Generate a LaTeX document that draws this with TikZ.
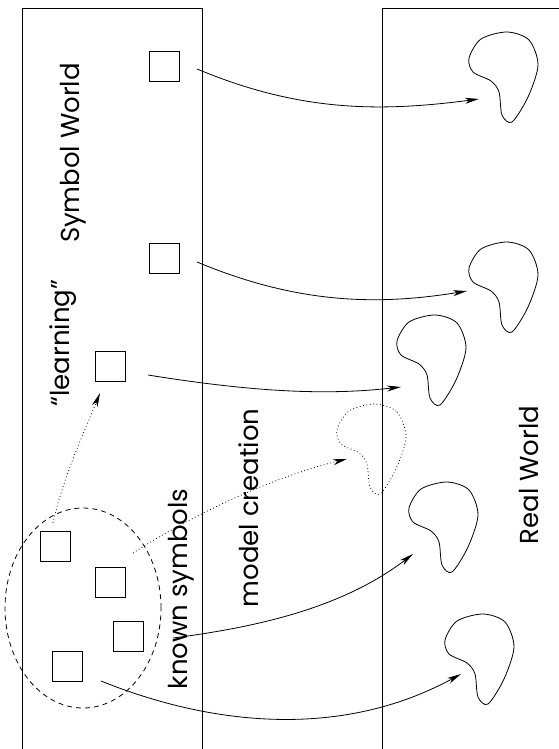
\documentclass[tikz,border=0pt]{standalone}
\usepackage{fontspec}
\setmainfont{Poppins}
\usepackage{tikz}
\usetikzlibrary{arrows.meta,shapes.geometric}
\newcommand\blobpath{plot[smooth cycle] coordinates {(38,-1) (60,7) (69,32) (59,64) (43,89) (33,82) (30,59) (22,48) (4,39) (0,25) (12,6)}}
\begin{document}
\begin{tikzpicture}[x=1pt,y=-1pt,line width=0.8pt,
  sym/.style={draw,minimum size=30pt,inner sep=0pt},
  lbl/.style={rotate=90,font=\fontsize{26}{30}\selectfont},
  conn/.style={-{Stealth[length=14pt,width=6pt,inset=4pt]}},
  dots/.style={dash pattern=on 0.8pt off 2.6pt}]
  \useasboundingbox (0,0) rectangle (559,749);
  \draw (22,760)--(22,8)--(202,8)--(202,760) (382,760)--(382,8)--(570,8);
  \node[sym](s1) at (164,66){};
  \node[sym](s2) at (164,258){};
  \node[sym](s3) at (110,366){};
  \node[sym](k1) at (55,546){};
  \node[sym](k2) at (110,582){};
  \node[sym](k3) at (128,636){};
  \node[sym](k4) at (67,666){};
  \node[ellipse,draw,dash pattern=on 5pt off 4pt,minimum width=156pt,minimum height=200pt,inner sep=0pt](known) at (83,608){};
  \node[lbl](symw) at (73,153){Symbol World};
  \node[lbl](learn) at (63,343){“learning”};
  \node[lbl](knsym) at (181,589){known symbols};
  \node[lbl](model) at (249,508){model creation};
  \node[lbl](realw) at (529,475){Real World};
  \foreach \bx/\by in {469/33,469/243,397/316,409/483,445/615}
    \draw[shift={(\bx,\by)}] \blobpath;
  \draw[dots,shift={(337,405)}] \blobpath;
  \coordinate(t1) at (479,99);
  \coordinate(t2) at (467,291);
  \coordinate(t3) at (401,387);
  \coordinate(t4) at (347,459);
  \coordinate(t5) at (100,393);
  \coordinate(t6) at (413,554);
  \coordinate(t7) at (461,674);
  \draw[conn]([shift={(33,3)}]s1.center) .. controls (300,112) and (380,112) .. (t1);
  \draw[conn]([shift={(33,4)}]s2.center) .. controls (300,305) and (380,305) .. (t2);
  \draw[conn]([shift={(38,9)}]s3.center) .. controls (260,393) and (330,395) .. (t3);
  \draw[conn,dots]([shift={(23,-29)}]k2.center) .. controls (200,510) and (280,475) .. (t4);
  \draw[conn,dots]([shift={(-2,-23)}]k1.center) .. controls (62,480) and (85,430) .. (t5);
  \draw[conn]([shift={(45,2)}]k3.center) .. controls (250,628) and (340,610) .. (t6);
  \draw[conn]([shift={(34,15)}]k4.center) .. controls (210,725) and (340,740) .. (t7);
\end{tikzpicture}
\end{document}
